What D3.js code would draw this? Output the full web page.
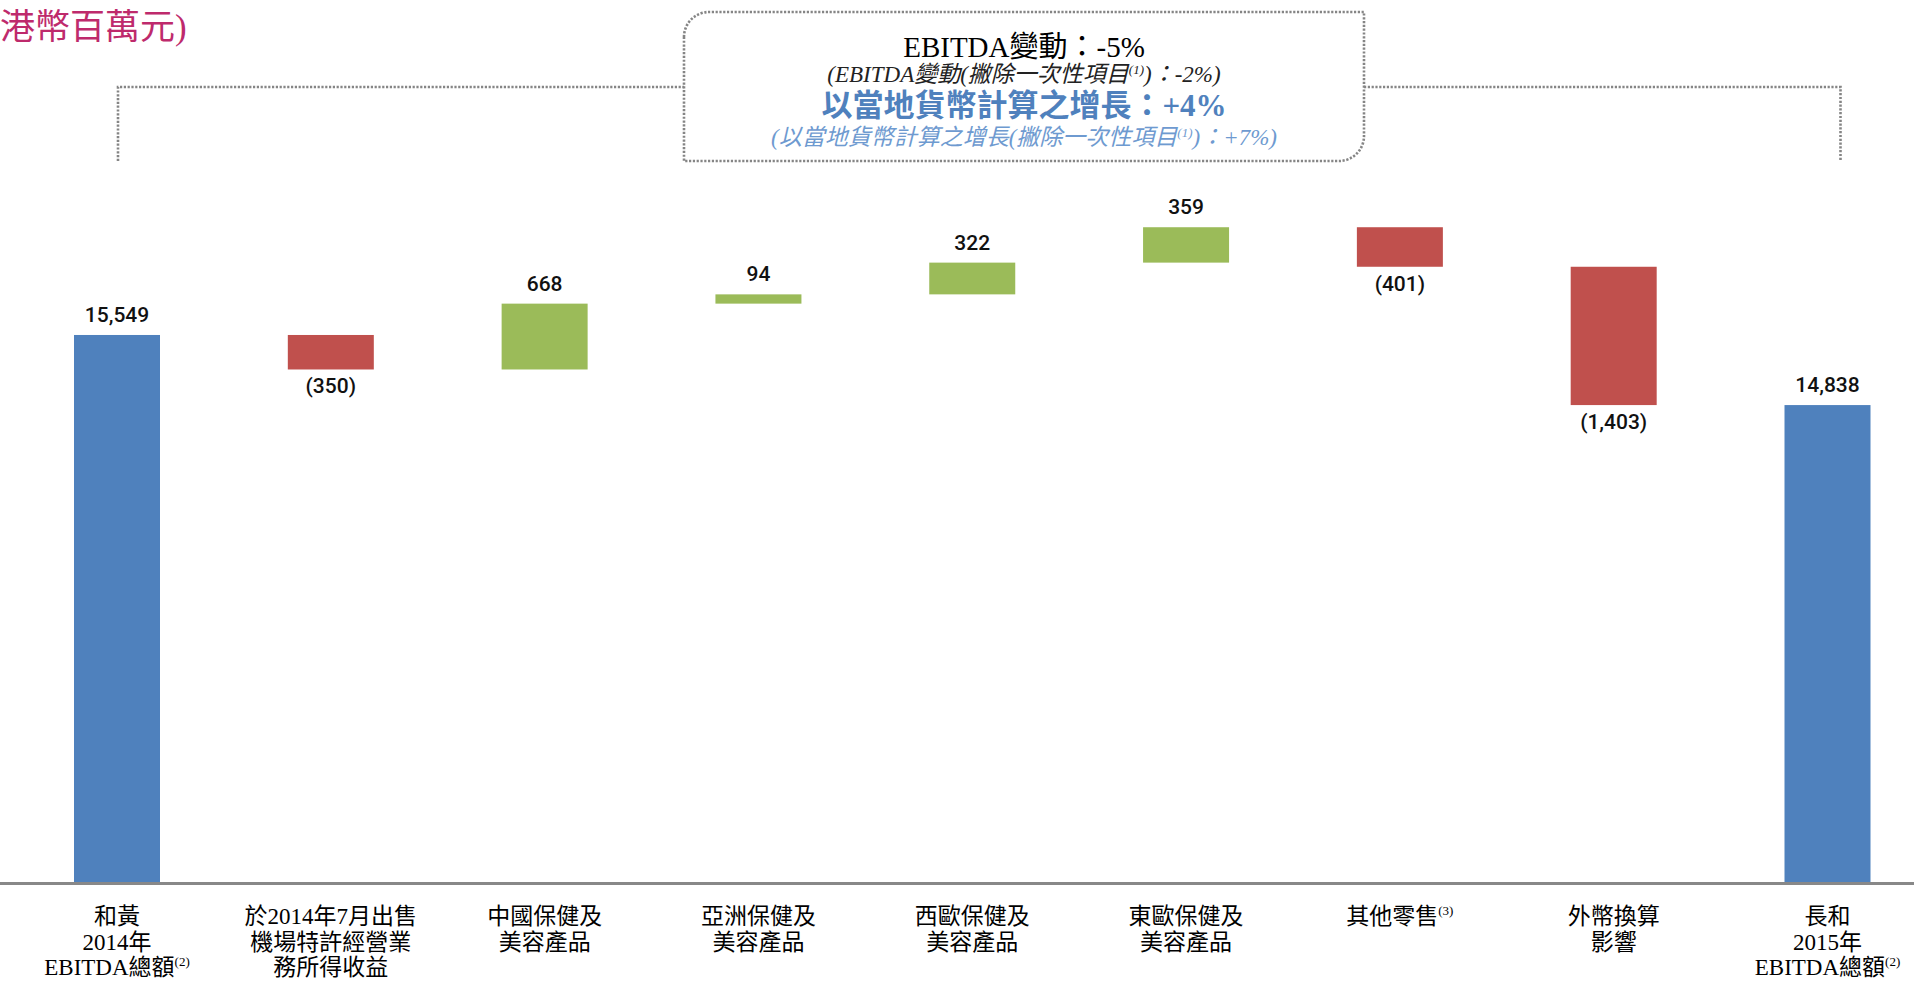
<!DOCTYPE html>
<html>
<head>
<meta charset="utf-8">
<script src="https://cdn.jsdelivr.net/npm/d3@7"></script>
<style>
  body { margin: 0; background: #fff; }
  svg { display: block; }
</style>
</head>
<body>
<div id="chart-area"><svg></svg></div>
<script>
const categories = [
    ["和黃", "2014年", "EBITDA總額"],
    ["於2014年7月出售", "機場特許經營業", "務所得收益"],
    ["中國保健及", "美容產品"],
    ["亞洲保健及", "美容產品"],
    ["西歐保健及", "美容產品"],
    ["東歐保健及", "美容產品"],
    ["其他零售"],
    ["外幣換算", "影響"],
    ["長和", "2015年", "EBITDA總額"]
];
const notes = ["(2)", "", "", "", "", "", "(3)", "", "(2)"];
const values = [15549, -350, 668, 94, 322, 359, -401, -1403, 14838];
const kinds = ["total", "delta", "delta", "delta", "delta", "delta", "delta", "delta", "total"];

const chartSize = { width: 1914, height: 983 };
const baseY = 882;
const barWidth = 86;

const colors = { total: "#4F81BD", up: "#9BBB59", down: "#C0504D" };

const numFormat = d3.format(",");
const valueLabel = v => v < 0 ? `(${numFormat(-v)})` : numFormat(v);

// running totals for the floating bars
const buildSteps = () => {
    let run = 0;
    return values.map((v, i) => {
        if (kinds[i] === "total") {
            run = v;
            return { i, v, lo: 0, hi: v, kind: "total" };
        }
        const start = run;
        run += v;
        return { i, v, lo: Math.min(start, run), hi: Math.max(start, run), kind: v < 0 ? "down" : "up" };
    });
};

const main = () => {
    const steps = buildSteps();

    const svg = d3.select("#chart-area svg")
        .attr("width", chartSize.width)
        .attr("height", chartSize.height);

    const x = d3.scalePoint()
        .domain(d3.range(categories.length))
        .range([117, 1827.5]);

    // axis is broken: starts at 10,000
    const y = d3.scaleLinear()
        .domain([10000, 17000])
        .range([baseY, baseY - 7000 * 0.09858]);

    const yOf = v => v <= 10000 ? baseY : y(v);

    svg.append("g")
        .selectAll("rect")
        .data(steps)
        .join("rect")
        .attr("x", d => x(d.i) - barWidth / 2)
        .attr("width", barWidth)
        .attr("y", d => y(d.hi))
        .attr("height", d => yOf(d.lo) - y(d.hi))
        .attr("fill", d => colors[d.kind]);

    svg.append("line")
        .attr("x1", 0).attr("x2", chartSize.width)
        .attr("y1", baseY + 1.5).attr("y2", baseY + 1.5)
        .attr("stroke", "#888").attr("stroke-width", 3);

    svg.append("g")
        .selectAll("text")
        .data(steps)
        .join("text")
        .attr("x", d => x(d.i))
        .attr("y", d => d.kind === "down" ? yOf(d.lo) + 24 : y(d.hi) - 13)
        .attr("text-anchor", "middle")
        .attr("font-family", "Roboto, 'Noto Sans', sans-serif")
        .attr("font-weight", 500)
        .attr("font-size", 21)
        .attr("fill", "#111")
        .text(d => valueLabel(d.v));

    const catFont = "'Liberation Serif', 'Noto Sans CJK TC', serif";
    const cats = svg.append("g")
        .selectAll("text")
        .data(categories)
        .join("text")
        .attr("text-anchor", "middle")
        .attr("font-family", catFont)
        .attr("font-size", 23)
        .attr("fill", "#000");

    cats.each(function (lines, i) {
        const t = d3.select(this);
        lines.forEach((line, k) => {
            const ts = t.append("tspan")
                .attr("x", x(i))
                .attr("y", 924 + k * 25.5)
                .text(line);
            if (k === lines.length - 1 && notes[i]) {
                ts.append("tspan")
                    .attr("font-size", 13)
                    .attr("dy", -9)
                    .text(notes[i]);
            }
        });
    });

    // unit title
    svg.append("text")
        .attr("x", 0)
        .attr("y", 39)
        .attr("font-family", "'Liberation Serif', 'Noto Sans CJK TC', serif")
        .attr("font-size", 35)
        .attr("fill", "#BE2A6C")
        .text("港幣百萬元)");

    // dotted callout box and bracket
    const box = { x0: 684, x1: 1364, y0: 12, y1: 161, r: 25 };
    const bracketY = 87;
    const dotted = sel => sel
        .attr("fill", "none")
        .attr("stroke", "#858585")
        .attr("stroke-width", 2.6)
        .attr("stroke-dasharray", "2.2,1.6");

    svg.append("path")
        .attr("d", `M${box.x0},${box.y0 + box.r} A${box.r},${box.r} 0 0 1 ${box.x0 + box.r},${box.y0}
            H${box.x1} V${box.y1 - box.r} A${box.r},${box.r} 0 0 1 ${box.x1 - box.r},${box.y1} H${box.x0} Z`)
        .call(dotted);

    svg.append("path")
        .attr("d", `M${x(0) + 1},${box.y1} V${bracketY} H${box.x0}`)
        .call(dotted);

    svg.append("path")
        .attr("d", `M${box.x1},${bracketY} H${x(categories.length - 1) + 13} V${box.y1}`)
        .call(dotted);

    const cx = (box.x0 + box.x1) / 2;
    const boxText = svg.append("g")
        .attr("text-anchor", "middle")
        .attr("font-family", "'Liberation Serif', 'Noto Sans CJK TC', serif");

    boxText.append("text")
        .attr("x", cx).attr("y", 57)
        .attr("font-size", 29)
        .attr("fill", "#000")
        .text("EBITDA變動：-5%");

    const l2 = boxText.append("text")
        .attr("x", cx).attr("y", 82)
        .attr("font-size", 23)
        .attr("font-style", "italic")
        .attr("fill", "#222");
    l2.append("tspan").text("(EBITDA變動(撇除一次性項目");
    l2.append("tspan").attr("font-size", 13).attr("dy", -8).text("(1)");
    l2.append("tspan").attr("dy", 8).text(")：-2%)");

    boxText.append("text")
        .attr("x", cx).attr("y", 116)
        .attr("font-size", 31)
        .attr("font-weight", "bold")
        .attr("fill", "#4F81BD")
        .text("以當地貨幣計算之增長：+4%");

    const l4 = boxText.append("text")
        .attr("x", cx).attr("y", 145)
        .attr("font-size", 23)
        .attr("font-style", "italic")
        .attr("fill", "#6E9AD0");
    l4.append("tspan").text("(以當地貨幣計算之增長(撇除一次性項目");
    l4.append("tspan").attr("font-size", 13).attr("dy", -8).text("(1)");
    l4.append("tspan").attr("dy", 8).text(")：+7%)");
};

window.onload = main;
</script>
</body>
</html>
